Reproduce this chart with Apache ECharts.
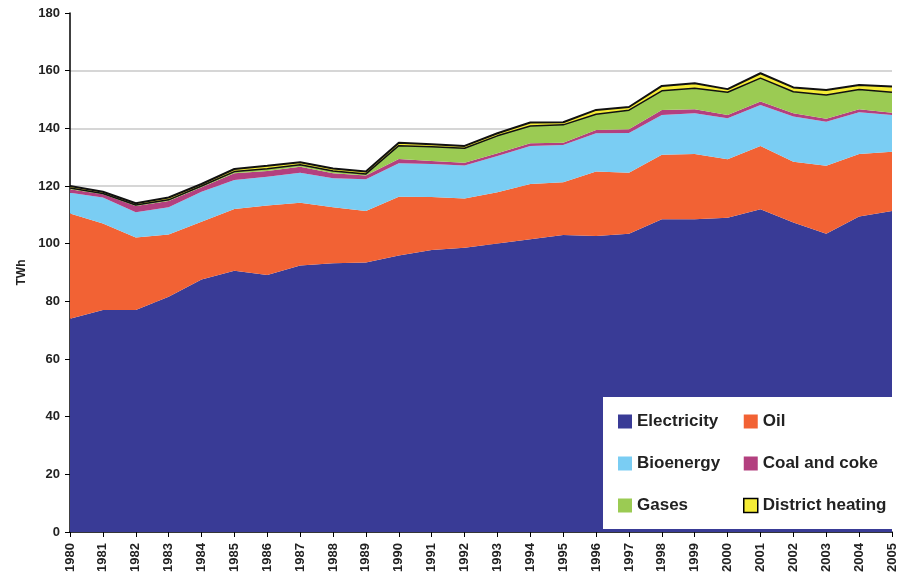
<!DOCTYPE html>
<html>
<head>
<meta charset="utf-8">
<script src="https://cdn.jsdelivr.net/npm/echarts@6/dist/echarts.min.js"></script>
<style>
  html, body { margin: 0; padding: 0; background: #fff; }
  #chart { width: 906px; height: 577px; }
</style>
</head>
<body>
<div id="chart"></div>
<script>
// years on the x axis
var years = ['1980', '1981', '1982', '1983', '1984', '1985', '1986', '1987', '1988', '1989',
  '1990', '1991', '1992', '1993', '1994', '1995', '1996', '1997', '1998', '1999',
  '2000', '2001', '2002', '2003', '2004', '2005'];

// TWh per energy carrier (stacked, bottom to top)
var electricity = [74, 77, 77, 81.6, 87.6, 90.6, 89.1, 92.4, 93.2, 93.5,
  95.9, 97.8, 98.6, 100.1, 101.5, 103, 102.7, 103.4, 108.5, 108.5,
  109, 111.9, 107.3, 103.4, 109.4, 111.3];
var oil = [36.5, 30, 25.1, 21.6, 20, 21.4, 24.1, 21.8, 19.4, 17.8,
  20.4, 18.4, 17.1, 17.7, 19.2, 18.3, 22.3, 21.2, 22.3, 22.6,
  20.3, 22, 21.1, 23.6, 21.7, 20.6];
var bioenergy = [7.2, 9, 8.8, 9.4, 10.4, 10.1, 10, 10.4, 10.1, 11,
  11.6, 11.4, 11.4, 12.6, 13.2, 12.9, 13.3, 13.8, 13.8, 14.1,
  14.2, 14.2, 15.7, 15.3, 14.5, 12.7];
var coal = [1.2, 1.1, 2.2, 2.2, 1.6, 2.3, 2, 2.1, 1.7, 1.3,
  1.5, 1.1, 1, 1, 0.9, 0.8, 1.1, 1.3, 1.8, 1.4,
  1.1, 1.2, 1.1, 1, 1, 0.8];
var gases = [0.4, 0.3, 0.3, 0.4, 0.4, 0.6, 0.8, 0.7, 0.8, 0.6,
  4.6, 4.9, 5, 6, 6, 6.2, 5.5, 6.6, 6.6, 7.3,
  7.9, 8.1, 7.5, 8.3, 6.9, 7.1];
var districtHeating = [0.7, 0.6, 0.6, 0.8, 0.7, 0.9, 1, 0.8, 0.9, 0.8,
  1, 0.9, 0.8, 0.9, 1.2, 0.9, 1.5, 1.1, 1.7, 1.7,
  1.1, 1.7, 1.5, 1.7, 1.5, 2];

var yTicks = [0, 20, 40, 60, 80, 100, 120, 140, 160, 180];

var colors = {
  electricity: '#393b96',
  oil: '#f26234',
  bio: '#7acdf3',
  coal: '#b3407f',
  gases: '#9bcb53',
  district: '#f5ec37'
};

var fontFamily = '"Liberation Sans", Arial, sans-serif';

function areaSeries(name, data, color, line) {
  return {
    name: name,
    type: 'line',
    stack: 'total',
    data: data,
    symbol: 'none',
    smooth: false,
    itemStyle: { color: color },
    lineStyle: line || { width: 0 },
    areaStyle: { color: color, opacity: 1 }
  };
}

var legendText = { fontFamily: fontFamily, fontWeight: 'bold', fontSize: 17, color: '#222' };

var myChart = echarts.init(document.getElementById('chart'));
var option = {
  backgroundColor: '#fff',
  animation: false,
  grid: { left: 70, right: 14, top: 13, bottom: 45 },
  xAxis: {
    type: 'category',
    data: years,
    boundaryGap: false,
    axisLine: { lineStyle: { color: '#000', width: 1.5 } },
    axisTick: { show: true, length: 5, alignWithLabel: true, lineStyle: { color: '#000' } },
    axisLabel: {
      interval: 0,
      rotate: 90,
      margin: 11,
      fontFamily: fontFamily,
      fontWeight: 'bold',
      fontSize: 13,
      color: '#222'
    },
    splitLine: { show: false }
  },
  yAxis: {
    type: 'value',
    min: yTicks[0],
    max: yTicks[yTicks.length - 1],
    interval: yTicks[1] - yTicks[0],
    name: 'TWh',
    nameLocation: 'middle',
    nameRotate: 90,
    nameGap: 40,
    nameTextStyle: { fontFamily: fontFamily, fontWeight: 'bold', fontSize: 12, color: '#222' },
    axisLine: { show: true, lineStyle: { color: '#000', width: 1.5 } },
    axisTick: { show: true, length: 5, lineStyle: { color: '#000' } },
    axisLabel: {
      margin: 10,
      fontFamily: fontFamily,
      fontWeight: 'bold',
      fontSize: 13,
      color: '#222'
    },
    splitLine: {
      show: true,
      lineStyle: {
        color: ['#c8c8c8', '#c8c8c8', '#c8c8c8', '#c8c8c8', '#c8c8c8',
          '#c8c8c8', '#c8c8c8', '#c8c8c8', '#c8c8c8', 'transparent'],
        width: 1.5
      }
    }
  },
  // white box behind the legend, sits over the areas like in the original
  graphic: {
    z: 100,
    elements: [{
      type: 'rect',
      z: 100,
      silent: true,
      left: 603,
      top: 397,
      shape: { width: 290, height: 132 },
      style: { fill: '#ffffff' }
    }]
  },
  legend: [
    {
      orient: 'vertical',
      left: 618,
      top: 413,
      padding: 0,
      z: 200,
      icon: 'rect',
      itemWidth: 14,
      itemHeight: 14,
      itemGap: 25,
      selectedMode: false,
      textStyle: legendText,
      data: ['Electricity', 'Bioenergy', 'Gases']
    },
    {
      orient: 'vertical',
      left: 743,
      top: 413,
      padding: 0,
      z: 200,
      icon: 'rect',
      itemWidth: 14,
      itemHeight: 14,
      itemGap: 25,
      selectedMode: false,
      textStyle: legendText,
      data: [
        'Oil',
        'Coal and coke',
        { name: 'District heating', itemStyle: { borderColor: '#000', borderWidth: 1.5 } }
      ]
    }
  ],
  series: [
    areaSeries('Electricity', electricity, colors.electricity),
    areaSeries('Oil', oil, colors.oil),
    areaSeries('Bioenergy', bioenergy, colors.bio),
    areaSeries('Coal and coke', coal, colors.coal),
    areaSeries('Gases', gases, colors.gases, { width: 1.5, color: '#111' }),
    areaSeries('District heating', districtHeating, colors.district, { width: 2, color: '#111' })
  ]
};
option && myChart.setOption(option);
</script>
</body>
</html>
